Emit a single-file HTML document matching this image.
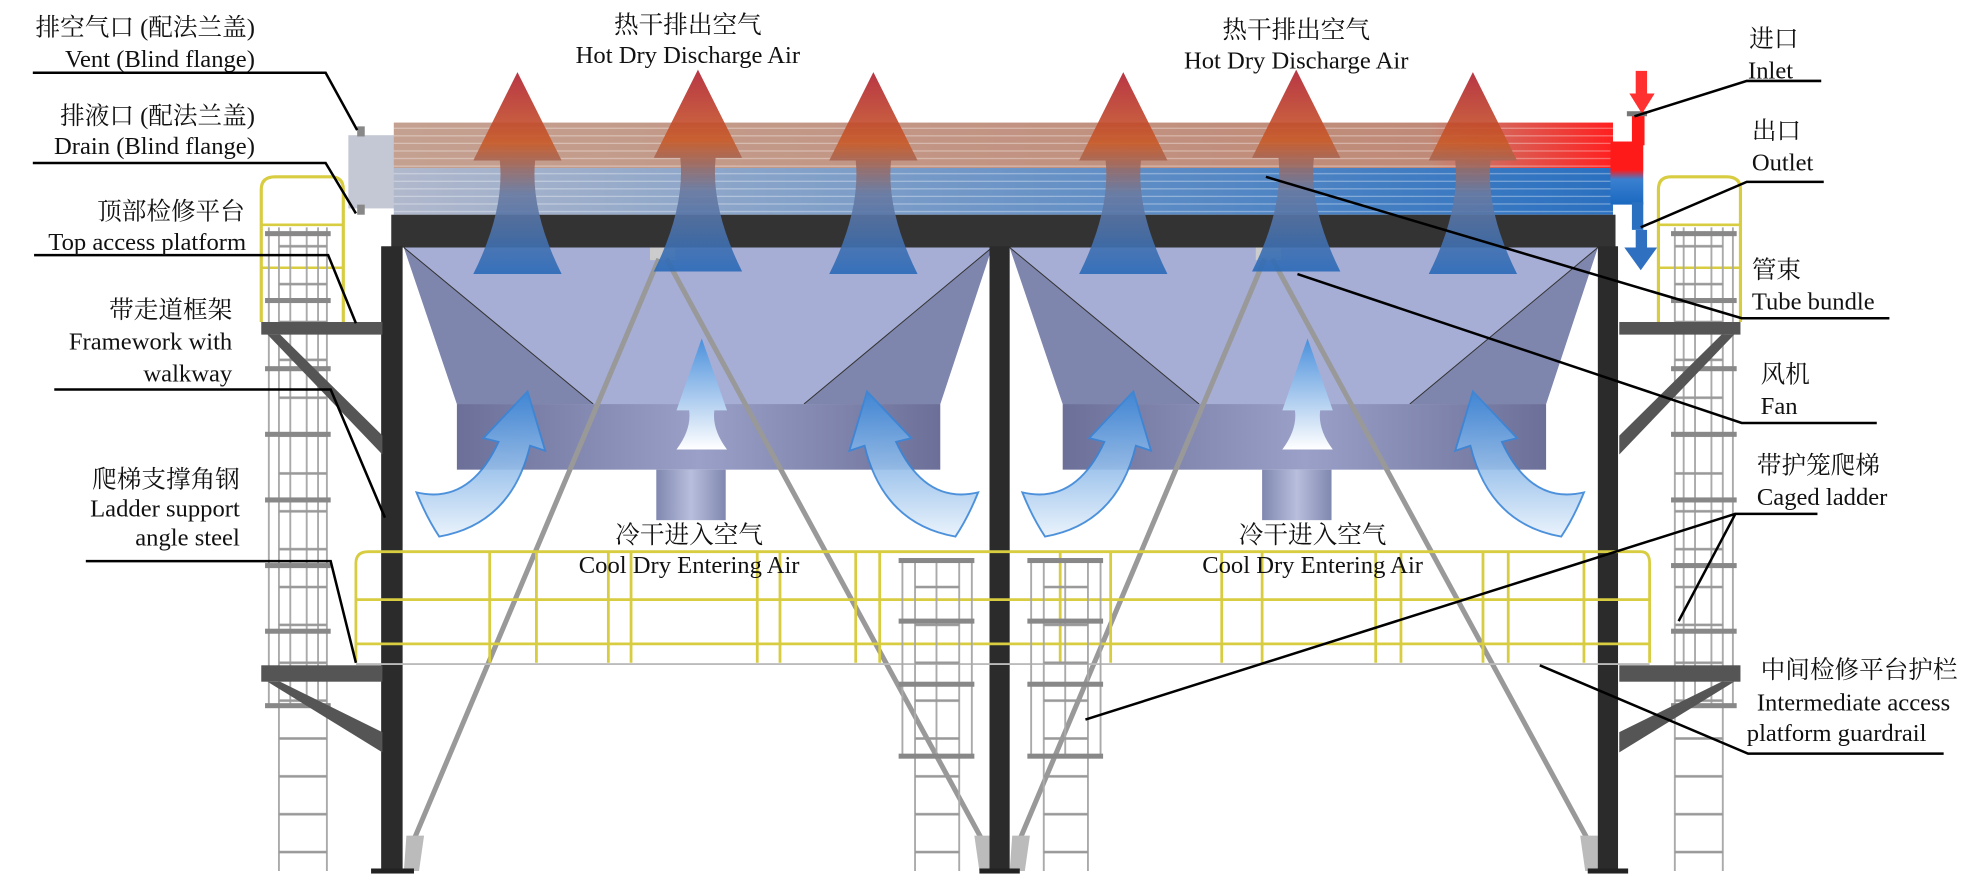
<!DOCTYPE html>
<html><head><meta charset="utf-8"><style>
html,body{margin:0;padding:0;background:#fff;}
svg{display:block}
text{font-family:"Liberation Serif","Noto Serif CJK SC",serif;font-size:19.5px;fill:#111}
</style></head><body>
<svg width="1979" height="880" viewBox="0 0 1568 697" xmlns="http://www.w3.org/2000/svg">
<defs>
<linearGradient id="hot" x1="0" y1="0" x2="0" y2="1">
<stop offset="0" stop-color="#b02030"/><stop offset="0.35" stop-color="#c85a28"/><stop offset="0.6" stop-color="#6a7aa0"/><stop offset="1" stop-color="#2a6ab8"/></linearGradient>
<linearGradient id="tubeTop" x1="0" y1="0" x2="1" y2="0">
<stop offset="0" stop-color="#c4a090"/><stop offset="0.85" stop-color="#c08a78"/><stop offset="1" stop-color="#ff2020"/></linearGradient>
<linearGradient id="tubeBot" x1="0" y1="0" x2="1" y2="0">
<stop offset="0" stop-color="#b0b8cc"/><stop offset="0.4" stop-color="#7a9cc8"/><stop offset="1" stop-color="#2a70c0"/></linearGradient>
<linearGradient id="hdr" x1="0" y1="0" x2="0" y2="1">
<stop offset="0" stop-color="#ff1a1a"/><stop offset="0.45" stop-color="#ff1a1a"/><stop offset="0.6" stop-color="#3a80d0"/><stop offset="1" stop-color="#1a68c0"/></linearGradient>
<linearGradient id="fan" x1="0" y1="0" x2="1" y2="0">
<stop offset="0" stop-color="#6c7098"/><stop offset="0.5" stop-color="#9aa0c8"/><stop offset="1" stop-color="#6c7098"/></linearGradient>
<linearGradient id="hub" x1="0" y1="0" x2="1" y2="0">
<stop offset="0" stop-color="#8088b0"/><stop offset="0.5" stop-color="#b8bedc"/><stop offset="1" stop-color="#8088b0"/></linearGradient>
<linearGradient id="cool" x1="0" y1="1" x2="0" y2="0">
<stop offset="0" stop-color="#e8f2fc"/><stop offset="1" stop-color="#3a86d8"/></linearGradient>
<linearGradient id="coolc" x1="0" y1="1" x2="0" y2="0">
<stop offset="0" stop-color="#ffffff"/><stop offset="1" stop-color="#4a90dc"/></linearGradient>
<pattern id="stripe" width="10" height="6" patternUnits="userSpaceOnUse"><rect width="10" height="6" fill="none"/><line x1="0" y1="5.5" x2="10" y2="5.5" stroke="#fff" stroke-opacity="0.35" stroke-width="1"/></pattern>
<pattern id="rung" width="10" height="30" patternUnits="userSpaceOnUse"><line x1="0" y1="15" x2="10" y2="15" stroke="#999" stroke-width="2"/></pattern>
<g id="hotA"><path d="M0,0 L35,70 L14,70 Q10,110 35,160 L-35,160 Q-10,110 -14,70 L-35,70 Z" fill="url(#hot)" opacity="0.9"/></g>
</defs>

<rect x="276" y="107" width="38" height="58" fill="#c4c8d4"/>
<rect x="283" y="100" width="6" height="8" fill="#888"/><rect x="283" y="162" width="6" height="8" fill="#888"/>
<rect x="312" y="97" width="966" height="36" fill="url(#tubeTop)"/>
<rect x="312" y="133" width="966" height="37" fill="url(#tubeBot)"/>
<rect x="312" y="97" width="966" height="73" fill="url(#stripe)"/>
<rect x="1276" y="112" width="26" height="50" fill="url(#hdr)"/>
<rect x="1293" y="90" width="10" height="25" fill="#ff1a1a"/>
<rect x="1293" y="160" width="9" height="22" fill="#2a70c0"/>
<rect x="1289" y="88" width="16" height="4" fill="#777"/>
<path d="M1296,56 L1305,56 L1305,74 L1311,74 L1301,90 L1291,74 L1296,74 Z" fill="#ff3030"/>
<path d="M1296,182 L1305,182 L1305,196 L1313,196 L1300,214 L1287,196 L1296,196 Z" fill="#3070c0"/>
<rect x="310" y="170" width="970" height="26" fill="#333"/>

<g id="hop">
<path d="M320,196 L786,196 L745,320 L362,320 Z" fill="#a6aed6"/>
<path d="M320,196 L362,320 L470,320 Z" fill="#7f86ad"/>
<path d="M786,196 L745,320 L637,320 Z" fill="#7f86ad"/>
<path d="M320,196 L470,320 M786,196 L637,320" stroke="#333" stroke-width="0.8" fill="none"/>
<rect x="362" y="320" width="383" height="52" fill="url(#fan)"/>
<rect x="520" y="372" width="55" height="40" fill="url(#hub)"/>
<rect x="515" y="196" width="20" height="10" fill="#ccc"/>
<line x1="522" y1="205" x2="328" y2="665" stroke="#999" stroke-width="4"/>
<line x1="528" y1="205" x2="778" y2="665" stroke="#999" stroke-width="4"/>
<path d="M322,662 L336,662 L332,690 L320,690 Z" fill="#bbb"/>
<path d="M772,662 L786,662 L788,690 L776,690 Z" fill="#bbb"/>
<path d="M330,390 Q372,400 395,350 L383,347 L418,310 L432,357 L420,353 Q405,415 348,425 Q338,410 330,390 Z" fill="url(#cool)" stroke="#3a86d8" stroke-width="1.5" opacity="0.9"/>
<path d="M775,390 Q733,400 710,350 L722,347 L687,310 L673,357 L685,353 Q700,415 757,425 Q767,410 775,390 Z" fill="url(#cool)" stroke="#3a86d8" stroke-width="1.5" opacity="0.9"/>
<path d="M556,268 L576,325 L566,325 Q564,340 576,356 L536,356 Q548,340 546,325 L536,325 Z" fill="url(#coolc)"/>
</g>
<use href="#hop" x="480"/>

<use href="#hotA" x="410" y="57"/><use href="#hotA" x="553" y="55"/><use href="#hotA" x="692" y="57"/>
<use href="#hotA" x="890" y="57"/><use href="#hotA" x="1027" y="55"/><use href="#hotA" x="1167" y="57"/>

<rect x="302" y="195" width="17" height="495" fill="#2b2b2b"/>
<rect x="784" y="195" width="16" height="495" fill="#2b2b2b"/>
<rect x="1266" y="195" width="16" height="495" fill="#2b2b2b"/>
<rect x="294" y="688" width="34" height="4" fill="#222"/><rect x="776" y="688" width="32" height="4" fill="#222"/><rect x="1258" y="688" width="32" height="4" fill="#222"/>

<g stroke="#d8cc40" stroke-width="2.2" fill="none">
<path d="M282,525 L282,446 Q282,437 292,437 L1300,437 Q1307,437 1307,446 L1307,525"/>
<line x1="282" y1="475" x2="1307" y2="475"/><line x1="282" y1="510" x2="1307" y2="510"/>
<path d="M388,437v88M425,437v88M482,437v88M500,437v88M600,437v88M618,437v88M678,437v88M697,437v88M840,437v88M880,437v88M968,437v88M1000,437v88M1090,437v88M1110,437v88M1175,437v88M1195,437v88M1255,437v88"/>
</g>
<line x1="282" y1="526" x2="1307" y2="526" stroke="#bbb" stroke-width="1.5"/>

<g id="lad">
<path d="M207,255 L207,150 Q207,140 218,140 L262,140 Q272,140 272,150 L272,255" stroke="#d8cc40" stroke-width="2.5" fill="none"/>
<line x1="207" y1="178" x2="272" y2="178" stroke="#d8cc40" stroke-width="2"/><line x1="207" y1="212" x2="272" y2="212" stroke="#d8cc40" stroke-width="2"/>
<g stroke="#aaa" stroke-width="1.5"><line x1="213" y1="180" x2="213" y2="560"/><line x1="221" y1="180" x2="221" y2="690"/><line x1="230" y1="180" x2="230" y2="560"/><line x1="243" y1="180" x2="243" y2="560"/><line x1="252" y1="180" x2="252" y2="560"/><line x1="259" y1="180" x2="259" y2="690"/></g>
<rect x="221" y="180" width="38" height="510" fill="url(#rung)"/>
<g fill="#888"><rect x="210" y="183" width="52" height="4"/><rect x="210" y="236" width="52" height="4"/><rect x="210" y="290" width="52" height="4"/><rect x="210" y="342" width="52" height="4"/><rect x="210" y="394" width="52" height="4"/><rect x="210" y="446" width="52" height="4"/><rect x="210" y="498" width="52" height="4"/><rect x="210" y="557" width="52" height="4"/></g>
<rect x="207" y="255" width="96" height="10" fill="#555"/>
<rect x="207" y="527" width="96" height="13" fill="#555"/>
<path d="M212,265 L222,265 L303,345 L303,360 Z" fill="#555"/>
<path d="M212,540 L222,540 L303,580 L303,596 Z" fill="#555"/>
</g>
<use href="#lad" transform="translate(1586,0) scale(-1,1)"/>
<g id="mlad">
<g stroke="#aaa" stroke-width="1.5"><line x1="715" y1="442" x2="715" y2="600"/><line x1="770" y1="442" x2="770" y2="600"/><line x1="725" y1="442" x2="725" y2="690"/><line x1="760" y1="442" x2="760" y2="690"/><line x1="742" y1="442" x2="742" y2="600"/></g>
<rect x="725" y="442" width="35" height="248" fill="url(#rung)"/>
<g fill="#888"><rect x="712" y="442" width="60" height="4"/><rect x="712" y="490" width="60" height="4"/><rect x="712" y="540" width="60" height="4"/><rect x="712" y="597" width="60" height="4"/></g>
</g>
<use href="#mlad" x="102"/>

<g stroke="#000" stroke-width="2" fill="none">
<path d="M26,57.5 L258,57.5 L283,103"/>
<path d="M26,129 L258,129 L282,169"/>
<path d="M27,202 L260,202 L282,256"/>
<path d="M43,308.5 L262,308.5 L305,410"/>
<path d="M68,444.5 L262,444.5 L282,525"/>
<path d="M1443,64 L1384,64 L1295,92"/>
<path d="M1445,144 L1384,144 L1300,180"/>
<path d="M1497,252 L1380,252 L1003,140"/>
<path d="M1487,335 L1380,335 L1028,217"/>
<path d="M1440,407 L1375,407 L1330,492"/>
<path d="M1375,407 L860,570"/>
<path d="M1540,597 L1385,597 L1220,527"/>
</g>

<g text-anchor="end">
<text x="202" y="28">排空气口 (配法兰盖)</text><text x="202" y="53">Vent (Blind flange)</text>
<text x="202" y="98">排液口 (配法兰盖)</text><text x="202" y="122">Drain (Blind flange)</text>
<text x="194" y="174">顶部检修平台</text><text x="195" y="198">Top access platform</text>
<text x="184" y="252">带走道框架</text><text x="184" y="277">Framework with</text><text x="184" y="302">walkway</text>
<text x="190" y="386">爬梯支撑角钢</text><text x="190" y="409">Ladder support</text><text x="190" y="432">angle steel</text>
</g>
<g text-anchor="middle">
<text x="545" y="26">热干排出空气</text><text x="545" y="50">Hot Dry Discharge Air</text>
<text x="1027" y="30">热干排出空气</text><text x="1027" y="54">Hot Dry Discharge Air</text>
<text x="546" y="430">冷干进入空气</text><text x="546" y="454">Cool Dry Entering Air</text>
<text x="1040" y="430">冷干进入空气</text><text x="1040" y="454">Cool Dry Entering Air</text>
</g>
<g>
<text x="1386" y="37">进口</text><text x="1385" y="62">Inlet</text>
<text x="1388" y="110">出口</text><text x="1388" y="135">Outlet</text>
<text x="1388" y="220">管束</text><text x="1388" y="245">Tube bundle</text>
<text x="1395" y="303">风机</text><text x="1395" y="328">Fan</text>
<text x="1392" y="375">带护笼爬梯</text><text x="1392" y="400">Caged ladder</text>
<text x="1395" y="537">中间检修平台护栏</text><text x="1392" y="563">Intermediate access</text><text x="1384" y="587">platform guardrail</text>
</g>
</svg>
</body></html>
